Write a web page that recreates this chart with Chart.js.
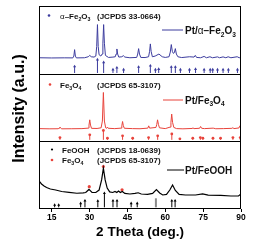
<!DOCTYPE html>
<html><head><meta charset="utf-8">
<script src="https://cdn.jsdelivr.net/npm/chart.js@4.4.1/dist/chart.umd.min.js"></script>
<style>html,body{margin:0;padding:0;background:#fff}canvas{display:block}</style>
</head><body>
<canvas id="c" width="258" height="250" style="width:258px;height:250px"></canvas>
<script>
// ---- data (2θ in degrees, intensity in stacked a.u.) ----
const xTicks = [15, 30, 45, 60, 75, 90];

const hematiteCurve = [[10,223.5],[15,223.2],[20,223.4],[23.4,223.3],[23.8,226],[24.1,235.5],[24.4,226],[24.8,223.3],[28,223.5],[29.5,225],[30.1,227],[30.7,225],[31.8,224.5],[32.5,226],[32.85,240],[33.15,272.5],[33.45,240],[33.8,228],[34.5,226],[35.0,229],[35.3,245],[35.6,272.5],[35.9,245],[36.3,227],[37.5,224],[39.3,224.5],[40.2,225],[40.55,229],[40.85,236.5],[41.15,229],[41.6,224.5],[42.8,225],[43.4,226.6],[44,224.5],[46,223.5],[48.7,224],[49.1,229],[49.45,237],[49.8,229],[50.3,224],[52,223.8],[53.4,225],[53.8,233],[54.1,244],[54.4,233],[54.9,225],[56,226],[57.5,229],[58.8,225],[60,224],[61.5,225],[62.0,232],[62.4,243],[62.8,233],[63.2,230],[63.6,231],[64.0,237],[64.4,229],[65,225],[66.5,223.8],[69.6,225],[71.4,224.5],[71.9,227],[72.4,224],[74,223.5],[75.4,225.5],[76.3,223.5],[77.7,225],[78.7,223.5],[80.7,224.8],[81.5,223.5],[82.9,224.8],[84,223.5],[84.9,225],[86,223.5],[88.5,225],[89.3,223.5],[90,224.3]];

const magnetiteCurve = [[10,118.8],[14,118.5],[17.6,118.6],[18.0,119.5],[18.3,121],[18.6,119.5],[19,118.5],[23,118.6],[27,118.8],[29.5,119.5],[29.8,124],[30.1,131.8],[30.4,124],[30.8,119.2],[33,119],[34.6,120],[35.1,130],[35.5,172.2],[35.9,130],[36.4,120],[36.8,119.3],[37.1,121],[37.4,119.3],[40,118.8],[42.5,119.5],[42.8,123],[43.1,129.3],[43.4,123],[43.8,119.3],[47,118.8],[50,118.6],[53.1,119.5],[53.45,122.9],[53.8,119.5],[56.3,120.5],[56.65,125],[56.95,131.8],[57.3,125],[57.7,120],[60,118.8],[61.9,121],[62.25,128],[62.55,140.3],[62.9,128],[63.4,120.5],[64.5,118.8],[67,118.5],[70.6,119],[71.0,119.8],[71.4,118.8],[73.6,119.3],[74.0,121.9],[74.4,119.3],[75.5,118.8],[79,119.5],[80,118.6],[83,118.8],[86.4,119.2],[86.8,120.2],[87.2,118.8],[89.2,119.8],[89.6,122.9],[90,120]];

const feoohCurve = [[10,41.5],[11,37],[12,34],[13,31.8],[14.5,29.6],[16.6,28.1],[19,25.9],[21.9,24.7],[25,23.3],[27.5,23.7],[28.5,24.4],[29.8,28.9],[31,24.4],[32.5,24.4],[33.8,28],[34.8,43],[35.5,60.3],[36.2,43],[37,31],[38,25.2],[39.2,24.4],[40.1,25.9],[40.8,24.4],[41.5,26.7],[42.2,24.4],[43,25.9],[44,23],[46,22.2],[48,23],[49.3,24],[50.5,22.2],[53,21.5],[55,23],[56.5,28.6],[57.8,23.7],[59,20.7],[60.5,21.5],[61.8,28.1],[62.9,35.5],[64,27.4],[65.5,21.5],[68,20.7],[72,20.7],[74.8,22.2],[77,20.4],[82,20],[86,19.2],[89,19.2],[90,22.2]];

// reference patterns: [2θ, stick top]; stick bases per pattern
const hematiteRef = [[24.1,210.7],[33.15,220.7],[35.6,216.7],[39.3,205.9],[40.85,208.8],[43.5,205.9],[49.45,209.9],[54.1,211.8],[56.1,205.9],[57.4,206.9],[62.4,209.9],[64.0,209.9],[66.0,205.9],[69.6,205.9],[72.0,206.9],[75.4,205.9],[77.8,205.9],[78.8,205.9],[80.7,205.9],[82.9,205.9],[85.0,205.9],[88.6,205.9]];
const hematiteRefBase = 201;
const magnetiteRef = [[18.3,105.6],[30.1,109.6],[35.5,116],[37.1,104.7],[43.1,108.1],[47.1,104.7],[53.4,105.6],[57.0,108.1],[62.6,111],[65.8,103.7],[70.9,104.7],[73.9,105.6],[74.9,104.7],[78.9,104.7],[81.9,104.7],[86.8,105.6],[89.7,105.6]];
const magnetiteRefBase = 102.2;
const feoohRef = [[16.2,5.9],[17.8,5.9],[26.5,8.4],[28.2,12.3],[33.3,11.8],[35.9,23.3],[39.3,12.3],[40.9,12.3],[46.5,8.4],[48.9,8.4],[62.6,12.3],[63.9,12.3]];
const feoohRefGrey = [[56.3,15.8]];
const feoohRefBase = 2.5;
const fe3o4MarksInFeOOH = [[29.9,33],[35.5,62.8],[42.9,28.3]];

// ---- colours ----
const BLUE = '#3c3c9e', RED = '#e8433b', BLACK = '#000000';

const pts = a => a.map(p => ({x: p[0], y: p[1]}));
function sticks(ref, base) {
  const out = [];
  ref.forEach(p => { out.push({x: p[0], y: base}); out.push({x: p[0], y: p[1], top: true}); out.push({x: p[0], y: null}); });
  return out;
}
const curveDs = (data, color, w) => ({data: pts(data), borderColor: color, borderWidth: w, pointRadius: 0, tension: 0, fill: false, spanGaps: false});
const stickDs = (ref, base, color, style, r, w) => ({
  data: sticks(ref, base), borderColor: color, backgroundColor: color, borderWidth: w, tension: 0, spanGaps: false,
  pointStyle: style, pointRadius: c => (c.raw && c.raw.top) ? r : 0, pointBorderWidth: 0, pointHoverRadius: 0
});

const FONT = '"Liberation Sans", Arial, Helvetica, sans-serif';
function rich(ctx, x, y, parts, size, color) {
  let cx = x;
  ctx.fillStyle = color;
  ctx.textBaseline = 'alphabetic';
  ctx.textAlign = 'left';
  for (const p of parts) {
    const sz = p.sub ? size * 0.66 : size;
    ctx.font = (p.normal ? '' : 'bold ') + sz + 'px ' + FONT;
    ctx.fillText(p.t, cx, p.sub ? y + size * 0.25 : y);
    cx += ctx.measureText(p.t).width;
  }
  return cx;
}
function dot(ctx, x, y, r, color) { ctx.fillStyle = color; ctx.beginPath(); ctx.arc(x, y, r, 0, Math.PI * 2); ctx.fill(); }
function seg(ctx, x1, x2, y, color) { ctx.strokeStyle = color; ctx.lineWidth = 1; ctx.beginPath(); ctx.moveTo(x1, y + 0.5); ctx.lineTo(x2, y + 0.5); ctx.stroke(); }

const decor = {
  id: 'decor',
  afterDraw(chart) {
    const ctx = chart.ctx, a = chart.chartArea, ys = chart.scales.y;
    ctx.save();
    // frame + panel separators
    ctx.strokeStyle = '#000'; ctx.lineWidth = 1;
    const L = Math.round(a.left) + 0.5, R = Math.round(a.right) - 0.5, T = Math.round(a.top) + 0.5, B = Math.round(a.bottom) - 0.5;
    ctx.strokeRect(L, T, R - L, B - T);
    [100, 200].forEach(v => { const y = Math.round(ys.getPixelForValue(v)) + 0.5; ctx.beginPath(); ctx.moveTo(L, y); ctx.lineTo(R, y); ctx.stroke(); });

    // legends panel 1
    dot(ctx, 49, 15.5, 1.3, BLUE);
    rich(ctx, 60, 18.5, [{t:'α', normal:true}, {t:'–Fe'}, {t:'2', sub:true}, {t:'O'}, {t:'3', sub:true}], 8, '#111');
    rich(ctx, 97, 18.5, [{t:'(JCPDS 33-0664)'}], 8, '#111');
    seg(ctx, 162, 183, 29.5, BLUE);
    rich(ctx, 185, 34, [{t:'Pt/'}, {t:'α', normal:true}, {t:'–Fe'}, {t:'2', sub:true}, {t:'O'}, {t:'3', sub:true}], 10, '#111');
    // panel 2
    dot(ctx, 50, 84.5, 1.3, RED);
    rich(ctx, 60, 87.5, [{t:'Fe'}, {t:'3', sub:true}, {t:'O'}, {t:'4', sub:true}], 8, '#111');
    rich(ctx, 97, 87.5, [{t:'(JCPDS 65-3107)'}], 8, '#111');
    seg(ctx, 163, 183, 99.5, RED);
    rich(ctx, 185, 103.5, [{t:'Pt/Fe'}, {t:'3', sub:true}, {t:'O'}, {t:'4', sub:true}], 10, '#111');
    // panel 3
    dot(ctx, 52, 149.5, 1.1, BLACK);
    rich(ctx, 62, 152.5, [{t:'FeOOH'}], 8, '#111');
    rich(ctx, 97, 152.5, [{t:'(JCPDS 18-0639)'}], 8, '#111');
    dot(ctx, 52, 160, 1.3, RED);
    rich(ctx, 62, 163, [{t:'Fe'}, {t:'3', sub:true}, {t:'O'}, {t:'4', sub:true}], 8, '#111');
    rich(ctx, 97, 163, [{t:'(JCPDS 65-3107)'}], 8, '#111');
    seg(ctx, 167, 184, 169.5, BLACK);
    rich(ctx, 185, 173.5, [{t:'Pt/FeOOH'}], 10, '#111');

    // axis titles
    ctx.fillStyle = '#000';
    ctx.font = 'bold 13.5px ' + FONT;
    ctx.textAlign = 'center'; ctx.textBaseline = 'alphabetic';
    ctx.fillText('2 Theta (deg.)', (a.left + a.right) / 2, 236);
    ctx.save();
    ctx.translate(24, 108.5);
    ctx.rotate(-Math.PI / 2);
    ctx.font = 'bold 16px ' + FONT;
    ctx.fillText('Intensity (a.u.)', 0, 0);
    ctx.restore();
    ctx.restore();
  }
};

new Chart(document.getElementById('c'), {
  type: 'line',
  data: {
    datasets: [
      curveDs(hematiteCurve, BLUE, 1),
      curveDs(magnetiteCurve, RED, 1),
      curveDs(feoohCurve, BLACK, 1.2),
      stickDs(hematiteRef, hematiteRefBase, BLUE, 'triangle', 1.8, 1),
      stickDs(magnetiteRef, magnetiteRefBase, RED, 'circle', 1.4, 1),
      stickDs(feoohRef, feoohRefBase, BLACK, 'triangle', 1.7, 1),
      stickDs(feoohRefGrey, feoohRefBase, '#8a8a8a', 'circle', 0, 2),
      {data: pts(fe3o4MarksInFeOOH), showLine: false, pointRadius: 1.6, pointStyle: 'circle', backgroundColor: RED, borderWidth: 0, pointBorderWidth: 0}
    ]
  },
  options: {
    responsive: false, animation: false, devicePixelRatio: 1,
    layout: {padding: {left: 0, right: 17, top: 6, bottom: 0}},
    plugins: {legend: {display: false}, tooltip: {enabled: false}},
    events: [],
    scales: {
      x: {
        type: 'linear', min: 10, max: 90,
        afterBuildTicks: s => { s.ticks = xTicks.map(v => ({value: v})); },
        afterFit: s => { s.height = 41; },
        grid: {drawOnChartArea: false, tickLength: 3, color: '#000', lineWidth: 1},
        border: {display: false},
        ticks: {color: '#000', font: {family: FONT, size: 8.5, weight: 'bold'}, padding: 1, maxRotation: 0, autoSkip: false}
      },
      y: {
        type: 'linear', min: 0, max: 300,
        afterFit: s => { s.width = 39; },
        grid: {display: false}, border: {display: false},
        ticks: {display: false}
      }
    }
  },
  plugins: [decor]
});
</script>
</body></html>
